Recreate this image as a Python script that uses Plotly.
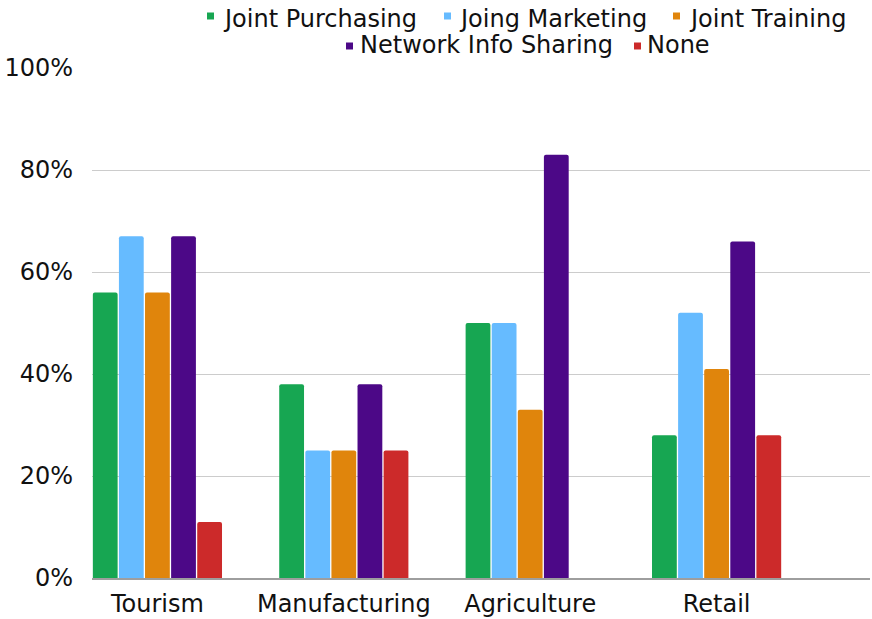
import plotly.graph_objects as go

# Sectors and the share of respondents using each form of cooperation
sectors = ["Tourism", "Manufacturing", "Agriculture", "Retail"]
joint_purchasing = [0.56, 0.38, 0.50, 0.28]
joing_marketing = [0.67, 0.25, 0.50, 0.52]
joint_training = [0.56, 0.25, 0.33, 0.41]
network_info_sharing = [0.67, 0.38, 0.83, 0.66]
none_values = [0.11, 0.25, 0.00, 0.28]

y_ticks = [0, 0.2, 0.4, 0.6, 0.8, 1.0]
y_tick_labels = ["0%", "20%", "40%", "60%", "80%", "100%"]

series_names = ["Joint Purchasing", "Joing Marketing", "Joint Training",
                "Network Info Sharing", "None"]
series_values = [joint_purchasing, joing_marketing, joint_training,
                 network_info_sharing, none_values]
series_colors = ["#17A652", "#66BBFF", "#E0850C", "#4C0887", "#CC2A2A"]

FONT = "DejaVu Sans"
TEXT_COLOR = "#111111"

W, H = 872, 619
M_L, M_R, M_T, M_B = 92, 2, 68, 41
PW, PH = W - M_L - M_R, H - M_T - M_B


def px_x(px):
    return (px - M_L) / PW


def px_y(py):
    return (H - M_B - py) / PH


fig = go.Figure()
for name, values, color in zip(series_names, series_values, series_colors):
    fig.add_trace(go.Bar(
        x=sectors, y=values, name=name,
        marker=dict(color=color, line=dict(width=0)),
        showlegend=False,
    ))

# Two-row legend drawn as colour keys plus labels
legend_layout = [  # (key left px, text left px, key centre px, text centre px)
    (207, 221, 16, 19),
    (444, 457, 16, 19),
    (673, 687, 16, 19),
    (346, 358, 46, 45),
    (634, 645, 46, 45),
]
annotations = []
shapes = []
for (kx, tx, ky, ty), name, color in zip(legend_layout, series_names, series_colors):
    shapes.append(dict(
        type="rect", xref="paper", yref="paper",
        x0=px_x(kx), x1=px_x(kx + 7), y0=px_y(ky + 3.5), y1=px_y(ky - 3.5),
        fillcolor=color, line=dict(width=0), layer="above",
    ))
    annotations.append(dict(
        text=name, xref="paper", yref="paper",
        x=px_x(tx), y=px_y(ty), xanchor="left", yanchor="middle",
        showarrow=False, font=dict(family=FONT, size=24, color=TEXT_COLOR),
    ))

fig.update_layout(
    width=W, height=H,
    margin=dict(l=M_L, r=M_R, t=M_T, b=M_B, autoexpand=False),
    paper_bgcolor="white", plot_bgcolor="white",
    font=dict(family=FONT, size=24, color=TEXT_COLOR),
    barmode="group", bargap=0.3, bargroupgap=0.05, barcornerradius=2,
    showlegend=False,
    annotations=annotations, shapes=shapes,
)

fig.update_xaxes(
    type="category", range=[-0.351, 3.823],
    showgrid=False, showline=True, linecolor="#9E9E9E", linewidth=1.5,
    ticks="", tickfont=dict(family=FONT, size=24, color=TEXT_COLOR),
    ticklabelstandoff=3,
)
fig.update_yaxes(
    range=[0, 1.0], tickvals=y_ticks, ticktext=y_tick_labels,
    showgrid=True, gridcolor="#CCCCCC", gridwidth=1,
    zeroline=False, showline=False, ticks="",
    tickfont=dict(family=FONT, size=24, color=TEXT_COLOR),
    ticklabelstandoff=18,
)

fig.write_html("out.html")
